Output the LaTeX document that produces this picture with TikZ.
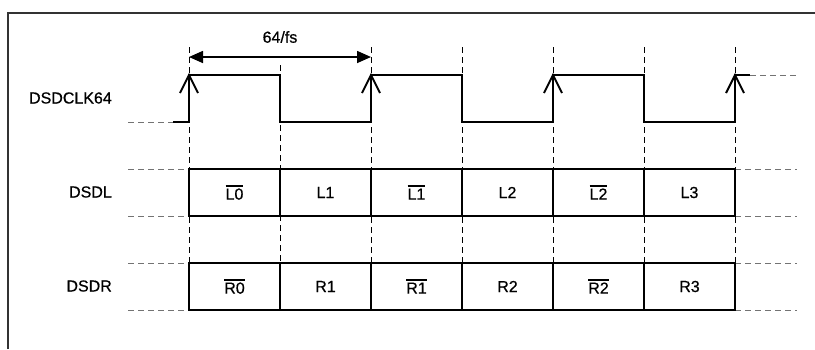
\documentclass[tikz,border=0pt]{standalone}
\usepackage{fontspec}
\setmainfont{Liberation Sans}
\newfontfamily\sigfam{Liberation Sans}[FakeBold=0.6]
\usetikzlibrary{arrows.meta}
\newcommand\sigfont{\sigfam\fontsize{16pt}{19pt}\selectfont}
\newcommand\ovl[1]{\leavevmode\vbox{\hrule height 1.6pt\kern1.6pt\hbox{#1}}}
\begin{document}
\begin{tikzpicture}[x=1pt,y=-1pt,
  sig/.style={line width=2pt, line join=miter},
  vgrid/.style={black, line width=0.9pt, dash pattern=on 6pt off 4pt},
  hgrid/.style={black!55, line width=1pt, dash pattern=on 6pt off 4pt},
  cell/.style={draw, line width=2pt, minimum width=91pt, minimum height=47pt, inner sep=0pt, font=\sigfont},
  lbl/.style={anchor=east, inner sep=0pt, font=\sigfont}]
\useasboundingbox (0,0) rectangle (815,349);
% frame
\draw[line width=1.5pt, black!80] (8,349) -- (8,13) -- (815,13);
% vertical grid lines
\foreach \x in {189,371,462,553,644,735} \draw[vgrid] (\x,47) -- (\x,263);
\draw[vgrid] (280,65) -- (280,263);
% horizontal grid lines
\draw[hgrid] (128,122) -- (173,122);
\draw[hgrid] (750,75) -- (797,75);
\foreach \y in {169,216,263,310} {
  \draw[hgrid] (128,\y) -- (189,\y);
  \draw[hgrid] (735,\y) -- (797,\y);
}
% labels
\node[lbl] (clk) at (112,98) {DSDCLK64};
\node[lbl] (dsdl) at (112,192) {DSDL};
\node[lbl] (dsdr) at (112,286) {DSDR};
% period annotation
\coordinate (p0) at (189,57);
\coordinate (p1) at (371,57);
\draw[line width=1.6pt, {Triangle[length=14pt,width=12pt]}-{Triangle[length=14pt,width=12pt]}] (p0) -- (p1);
\node[font=\sigfont, inner sep=0pt] (per) at (280,37) {64/fs};
% clock waveform
\draw[sig] (173,122) -- (189,122) -- (189,75) -- (280,75) -- (280,122) -- (371,122) -- (371,75)
  -- (462,75) -- (462,122) -- (553,122) -- (553,75) -- (644,75) -- (644,122) -- (735,122)
  -- (735,75) -- (750,75);
\foreach \x in {189,371,553,735} \draw[sig] (\x-9,93) -- (\x,75) -- (\x+9,93);
% data cells
\node[cell] (l0) at (234.5,192.5) {\ovl{L0}};
\node[cell] (l1) at (325.5,192.5) {L1};
\node[cell] (l1b) at (416.5,192.5) {\ovl{L1}};
\node[cell] (l2) at (507.5,192.5) {L2};
\node[cell] (l2b) at (598.5,192.5) {\ovl{L2}};
\node[cell] (l3) at (689.5,192.5) {L3};
\node[cell] (r0) at (234.5,286.5) {\ovl{R0}};
\node[cell] (r1) at (325.5,286.5) {R1};
\node[cell] (r1b) at (416.5,286.5) {\ovl{R1}};
\node[cell] (r2) at (507.5,286.5) {R2};
\node[cell] (r2b) at (598.5,286.5) {\ovl{R2}};
\node[cell] (r3) at (689.5,286.5) {R3};
\end{tikzpicture}
\end{document}
